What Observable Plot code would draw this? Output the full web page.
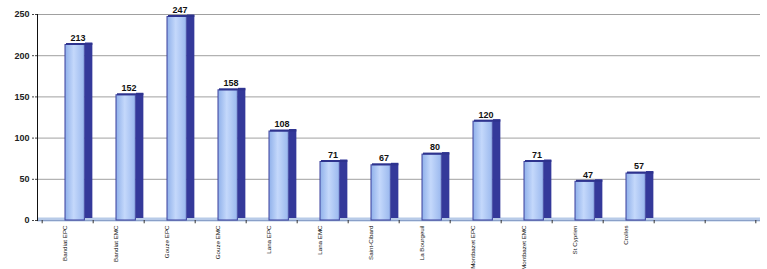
<!DOCTYPE html>
<html><head><meta charset="utf-8">
<script src="https://cdn.jsdelivr.net/npm/d3@7"></script>
<script src="https://cdn.jsdelivr.net/npm/@observablehq/plot@0.6"></script>
<style>body{margin:0;background:#fff;font-family:"Liberation Sans",Arial,sans-serif}</style>
</head><body><div id="chart"></div>
<script>
const categories = ["Bandiat EPC","Bandiat EMC","Gouze EPC","Gouze EMC","Lana EPC","Lana EMC","Saint-Cibard","La Bourgeuil","Montbazet EPC","Montbazet EMC","St Cyprien","Crolles"];
const values = [213,152,247,158,108,71,67,80,120,71,47,57];
const emptySlots = ["_e1","_e2"];
const yTicks = [0,50,100,150,200,250];

const data = categories.map((c,i)=>({cat:c, value:values[i]}));
const domain = categories.concat(emptySlots);
const W = 767, H = 269, mL = 37, mR = 7;
const slot = (W - mL - mR) / domain.length;

const defs = () => {
  const svg = d3.create("svg:defs");
  const g = svg.append("linearGradient").attr("id","barGrad").attr("x1","0").attr("x2","1").attr("y1","0").attr("y2","0");
  g.append("stop").attr("offset","0%").attr("stop-color","#8fb0ea");
  g.append("stop").attr("offset","45%").attr("stop-color","#c4d8fb");
  g.append("stop").attr("offset","100%").attr("stop-color","#9ab8ee");
  return svg.node();
};

const plot = Plot.plot({
  width: W, height: H,
  marginLeft: mL, marginRight: mR, marginTop: 14, marginBottom: 49,
  style: {fontFamily: "'Liberation Sans', Arial, sans-serif", fontSize: "9px", color: "#222", background: "#fff"},
  x: {domain, padding: 0, axis: null},
  y: {domain: [0,250], axis: null},
  marks: [
    defs,
    Plot.ruleY(yTicks.filter(d=>d>0), {stroke:"#888", strokeWidth:1, strokeOpacity:0.8}),
    Plot.axisY(yTicks, {tickSize:5, tickPadding:3, fontWeight:"bold", stroke:"#444", strokeDasharray:"2,1", label:null}),
    Plot.ruleY([0], {stroke:"#b8cbe8", strokeWidth:4, dy:-1}),
    Plot.ruleY([0], {stroke:"#8aa0c8", strokeWidth:1}),
    // side face
    Plot.barY(data, {x:"cat", y:"value", fill:"#34399a", insetLeft:43, insetRight:slot-51, dy:-2}),
    // front face
    Plot.barY(data, {x:"cat", y:"value", fill:"url(#barGrad)", stroke:"#3a3f9c", strokeWidth:1, insetLeft:23, insetRight:slot-43}),
    // top edge
    Plot.tickY(data, {x:"cat", y:"value", stroke:"#2e338e", strokeWidth:2, insetLeft:24, insetRight:slot-51, dy:-1}),
    Plot.frame({anchor:"left", stroke:"#111"}),
    Plot.ruleX(domain, {x:d=>d, y1:0, y2:-4, dx:-slot/2, stroke:"#333"}),
    Plot.ruleX([domain[domain.length-1]], {x:d=>d, y1:0, y2:-4, dx:slot/2-1, stroke:"#333"}),
    Plot.text(data, {x:"cat", y:"value", text:d=>String(d.value), dy:-7, dx:10, fontWeight:"bold", fontSize:9, fill:"#111"}),
    Plot.text(data, {x:"cat", y:0, text:"cat", rotate:-90, textAnchor:"end", dy:5, dx:-3, fontSize:6.2, fontFamily:"'Liberation Sans', Arial, sans-serif", fill:"#111"})
  ]
});
document.getElementById("chart").append(plot);
</script></body></html>
